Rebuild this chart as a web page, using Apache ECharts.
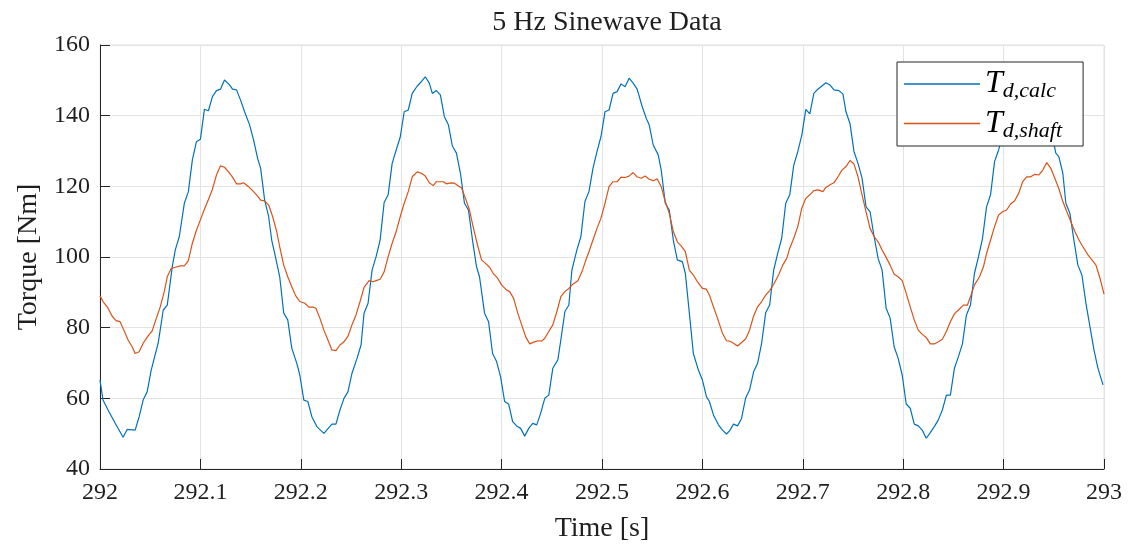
<!DOCTYPE html>
<html>
<head>
<meta charset="utf-8">
<script src="https://cdn.jsdelivr.net/npm/echarts@6/dist/echarts.min.js"></script>
<style>html,body{margin:0;padding:0;background:#fff}#chart{width:1128px;height:546px}</style>
</head>
<body>
<div id="chart"></div>
<script>
const titleText = '5 Hz Sinewave Data';
const xName = 'Time [s]';
const yName = 'Torque [Nm]';
const seriesNames = ['calc', 'shaft'];

const calcT = [292.000,292.003,292.008,292.015,292.023,292.027,292.035,292.039,292.043,292.047,292.051,292.058,292.063,292.067,292.072,292.075,292.079,292.084,292.088,292.092,292.096,292.100,292.104,292.108,292.112,292.116,292.120,292.124,292.129,292.132,292.136,292.140,292.144,292.149,292.153,292.157,292.160,292.164,292.168,292.171,292.174,292.179,292.183,292.187,292.191,292.196,292.199,292.203,292.207,292.211,292.216,292.223,292.231,292.235,292.239,292.243,292.247,292.251,292.256,292.260,292.263,292.267,292.271,292.275,292.279,292.283,292.287,292.291,292.296,292.299,292.303,292.307,292.311,292.316,292.320,292.324,292.328,292.331,292.335,292.339,292.343,292.347,292.351,292.355,292.359,292.363,292.367,292.371,292.375,292.378,292.383,292.387,292.391,292.395,292.399,292.403,292.407,292.411,292.415,292.419,292.423,292.427,292.431,292.435,292.439,292.443,292.447,292.451,292.456,292.459,292.463,292.467,292.470,292.475,292.479,292.483,292.487,292.491,292.495,292.499,292.503,292.507,292.511,292.515,292.519,292.523,292.527,292.531,292.535,292.540,292.544,292.547,292.551,292.556,292.559,292.563,292.567,292.571,292.575,292.580,292.583,292.587,292.591,292.596,292.600,292.604,292.607,292.611,292.616,292.620,292.624,292.627,292.631,292.635,292.639,292.643,292.647,292.651,292.655,292.659,292.663,292.667,292.671,292.675,292.679,292.683,292.687,292.691,292.695,292.699,292.703,292.707,292.711,292.715,292.719,292.723,292.727,292.731,292.736,292.740,292.743,292.747,292.751,292.755,292.759,292.763,292.767,292.771,292.775,292.779,292.783,292.787,292.791,292.795,292.799,292.803,292.807,292.811,292.815,292.819,292.823,292.827,292.831,292.835,292.839,292.843,292.847,292.851,292.855,292.859,292.863,292.867,292.871,292.875,292.879,292.883,292.887,292.891,292.895,292.899,292.903,292.907,292.911,292.915,292.919,292.923,292.927,292.931,292.935,292.939,292.943,292.947,292.952,292.955,292.959,292.962,292.966,292.970,292.974,292.978,292.982,292.986,292.990,292.994,292.999];
const calcV = [65.2,59.5,56.7,53.0,49.0,51.2,51.0,54.8,59.5,61.9,68.0,75.7,85.0,86.4,97.3,102.0,105.8,115.2,118.5,127.5,132.6,133.3,141.8,141.4,145.4,147.1,147.5,150.1,148.7,147.5,147.3,144.4,141.1,137.4,133.1,127.9,125.1,116.1,111.4,104.8,101.0,94.4,84.1,82.2,74.2,69.9,66.6,59.5,59.1,54.8,52.0,50.1,52.7,52.7,56.7,60.0,61.9,67.1,71.3,75.1,84.1,86.9,96.3,100.1,104.8,115.4,117.6,126.5,131.2,133.9,141.1,141.6,146.3,148.4,149.6,151.0,149.2,146.3,147.1,145.9,139.7,137.4,131.4,129.4,123.7,115.2,113.3,104.8,97.3,94.4,84.1,81.7,72.7,70.4,66.1,59.1,58.4,53.4,52.2,51.5,49.3,51.5,52.9,52.5,55.9,60.0,60.9,68.5,70.9,76.5,84.5,86.4,96.3,102.0,105.8,115.7,118.5,125.1,129.8,134.1,141.1,141.6,146.3,146.8,149.0,148.2,150.6,149.2,147.5,142.6,139.3,137.4,131.7,128.9,124.6,115.2,113.3,104.8,99.2,98.7,95.4,84.1,72.7,68.0,65.2,60.5,59.1,55.3,52.5,51.0,49.9,50.8,52.7,52.2,54.3,60.0,62.4,67.5,69.9,75.6,84.2,86.4,96.3,101.0,105.3,115.2,117.6,126.0,129.8,134.5,141.8,140.5,146.3,147.5,148.4,149.3,148.7,147.3,147.1,146.1,141.1,137.8,129.8,126.5,122.3,114.2,112.8,105.8,99.6,96.3,85.5,82.7,74.6,71.3,66.6,58.4,57.2,52.7,52.2,51.0,48.7,50.3,52.0,53.9,56.7,60.9,60.9,68.5,71.8,75.4,83.6,86.4,95.4,100.1,105.3,114.2,117.6,127.0,130.3,134.0,141.5,141.2,145.8,147.5,148.6,150.2,149.0,147.6,147.2,144.8,141.0,136.5,129.4,128.4,123.7,115.2,112.4,104.8,97.7,94.9,86.9,80.3,73.7,68.5,63.8];

const shaftT = [292.000,292.003,292.008,292.012,292.016,292.020,292.023,292.028,292.032,292.035,292.039,292.043,292.047,292.052,292.055,292.060,292.064,292.067,292.071,292.075,292.080,292.084,292.088,292.092,292.096,292.100,292.104,292.108,292.112,292.116,292.120,292.124,292.128,292.132,292.136,292.140,292.143,292.148,292.152,292.156,292.160,292.164,292.168,292.172,292.176,292.179,292.183,292.187,292.191,292.195,292.199,292.204,292.208,292.212,292.215,292.219,292.223,292.227,292.231,292.235,292.239,292.243,292.247,292.251,292.255,292.259,292.263,292.268,292.272,292.275,292.279,292.283,292.287,292.291,292.295,292.299,292.303,292.307,292.311,292.316,292.320,292.324,292.328,292.332,292.335,292.339,292.342,292.345,292.349,292.353,292.357,292.360,292.364,292.368,292.372,292.376,292.380,292.384,292.388,292.392,292.396,292.400,292.404,292.408,292.412,292.416,292.420,292.424,292.428,292.432,292.436,292.440,292.443,292.447,292.451,292.455,292.459,292.463,292.467,292.471,292.476,292.480,292.484,292.487,292.491,292.495,292.499,292.503,292.507,292.511,292.515,292.519,292.523,292.527,292.531,292.535,292.539,292.543,292.547,292.551,292.555,292.559,292.563,292.567,292.571,292.575,292.579,292.583,292.587,292.591,292.595,292.600,292.604,292.607,292.611,292.615,292.620,292.624,292.627,292.631,292.635,292.639,292.643,292.647,292.651,292.655,292.659,292.663,292.667,292.671,292.676,292.680,292.684,292.687,292.691,292.695,292.699,292.703,292.707,292.711,292.715,292.720,292.723,292.728,292.731,292.735,292.739,292.743,292.747,292.751,292.755,292.759,292.763,292.767,292.771,292.775,292.779,292.783,292.787,292.791,292.795,292.799,292.803,292.807,292.811,292.815,292.819,292.823,292.827,292.831,292.835,292.839,292.843,292.847,292.851,292.855,292.860,292.864,292.867,292.871,292.876,292.880,292.883,292.887,292.891,292.895,292.899,292.903,292.907,292.911,292.915,292.919,292.923,292.927,292.931,292.935,292.939,292.943,292.947,292.951,292.955,292.959,292.963,292.967,292.971,292.975,292.979,292.984,292.988,292.992,292.996,293.000];
const shaftV = [89.0,87.4,85.5,83.3,82.0,81.7,79.8,76.5,74.6,72.7,73.2,75.6,77.3,79.1,81.7,85.9,90.2,94.4,96.8,97.1,97.5,97.5,99.0,103.9,107.5,110.5,113.5,116.3,119.2,123.2,125.8,125.4,124.1,122.6,120.7,120.7,121.0,119.9,118.8,117.6,116.1,115.9,114.7,111.4,107.2,102.9,97.7,94.4,91.6,89.0,87.4,86.9,85.8,85.8,85.5,82.7,79.3,76.5,73.7,73.5,75.1,76.0,77.6,80.8,83.6,87.4,91.4,93.3,93.0,93.3,93.7,95.8,100.1,103.9,107.2,111.4,115.2,118.5,122.7,124.1,123.7,122.9,121.0,120.2,121.3,121.3,121.3,120.7,121.0,120.9,120.1,119.6,116.6,113.3,108.1,103.4,99.2,98.2,97.1,95.2,94.0,92.1,90.9,90.2,88.3,84.2,80.8,77.4,75.4,75.9,76.3,76.2,77.0,78.9,80.8,84.5,88.8,90.2,91.1,92.3,93.3,95.8,99.2,101.5,104.8,108.1,111.0,115.2,119.9,121.3,121.3,122.6,122.5,122.9,123.9,122.7,122.3,122.9,122.0,121.6,122.1,119.9,115.7,112.4,107.2,104.3,103.1,101.5,96.3,94.9,93.0,91.1,90.9,89.2,85.9,82.7,78.4,76.3,76.2,75.6,74.8,75.8,76.8,79.3,83.3,85.9,87.4,89.2,90.5,92.3,95.0,97.7,99.6,102.5,105.3,108.6,113.8,116.6,117.6,118.8,119.0,118.5,119.7,120.6,121.0,122.7,124.6,125.6,127.3,126.3,122.7,117.6,112.8,108.1,105.8,104.3,102.0,99.9,97.7,95.1,94.4,93.3,89.7,85.9,82.2,79.3,78.1,77.2,75.4,75.4,76.0,76.7,78.9,81.7,83.9,85.0,86.4,86.4,88.8,92.1,94.4,97.3,101.0,104.8,108.6,111.9,112.8,113.3,115.0,115.9,118.0,121.3,122.7,122.7,123.4,123.2,124.6,126.7,125.1,122.3,119.4,115.7,112.8,110.0,107.2,104.8,102.9,100.6,99.2,97.7,94.0,89.5];

const chart = echarts.init(document.getElementById('chart'));
const serif = '"Liberation Serif", "DejaVu Serif", serif';
const ink = '#1f1f1f';

chart.setOption({
  animation: false,
  backgroundColor: '#fff',
  title: {
    text: titleText, left: 602, top: 4, textAlign: 'center',
    textStyle: { fontFamily: serif, fontSize: 28, fontWeight: 'normal', color: ink }
  },
  grid: { left: 100, right: 24, top: 45, bottom: 77, show: true, borderColor: '#e3e3e3', borderWidth: 1,
          containLabel: false, outerBoundsMode: 'none' },
  legend: {
    orient: 'vertical', left: 897, top: 62,
    backgroundColor: '#fff', borderColor: '#262626', borderWidth: 1,
    padding: [6, 21, 4, 7], itemGap: 5,
    itemWidth: 76, itemHeight: 1.3, icon: 'rect',
    data: [ { name: seriesNames[0] }, { name: seriesNames[1] } ],
    formatter: n => '{T|T}{s|d,' + n + '}',
    textStyle: {
      rich: {
        T: { fontFamily: serif, fontStyle: 'italic', fontSize: 32, lineHeight: 37, color: '#000' },
        s: { fontFamily: serif, fontStyle: 'italic', fontSize: 22, lineHeight: 14, verticalAlign: 'bottom', color: '#000' }
      }
    }
  },
  xAxis: {
    type: 'value', min: 292, max: 293, interval: 0.1,
    name: xName, nameLocation: 'middle', nameGap: 46,
    nameTextStyle: { fontFamily: serif, fontSize: 28, color: ink },
    axisLine: { show: true, lineStyle: { color: '#262626', width: 1 } },
    axisTick: { show: true, inside: true, length: 10, lineStyle: { color: '#262626' } },
    axisLabel: { fontFamily: serif, fontSize: 24, color: ink, margin: 12,
      formatter: v => String(Math.round(v * 10) / 10) },
    splitLine: { show: true, lineStyle: { color: '#e3e3e3', width: 1 } }
  },
  yAxis: {
    type: 'value', min: 40, max: 160, interval: 20,
    name: yName, nameLocation: 'middle', nameGap: 57, nameRotate: 90,
    nameTextStyle: { fontFamily: serif, fontSize: 28, color: ink },
    axisLine: { show: true, lineStyle: { color: '#262626', width: 1 } },
    axisTick: { show: true, inside: true, length: 10, lineStyle: { color: '#262626' } },
    axisLabel: { fontFamily: serif, fontSize: 24, color: ink, margin: 10 },
    splitLine: { show: true, lineStyle: { color: '#e3e3e3', width: 1 } }
  },
  series: [
    { name: seriesNames[0], type: 'line', showSymbol: false, symbol: 'none',
      data: calcT.map((t, i) => [t, calcV[i]]),
      lineStyle: { color: '#0072BD', width: 1.2 }, itemStyle: { color: '#0072BD' } },
    { name: seriesNames[1], type: 'line', showSymbol: false, symbol: 'none',
      data: shaftT.map((t, i) => [t, shaftV[i]]),
      lineStyle: { color: '#D95319', width: 1.2 }, itemStyle: { color: '#D95319' } }
  ]
});
</script>
</body>
</html>
